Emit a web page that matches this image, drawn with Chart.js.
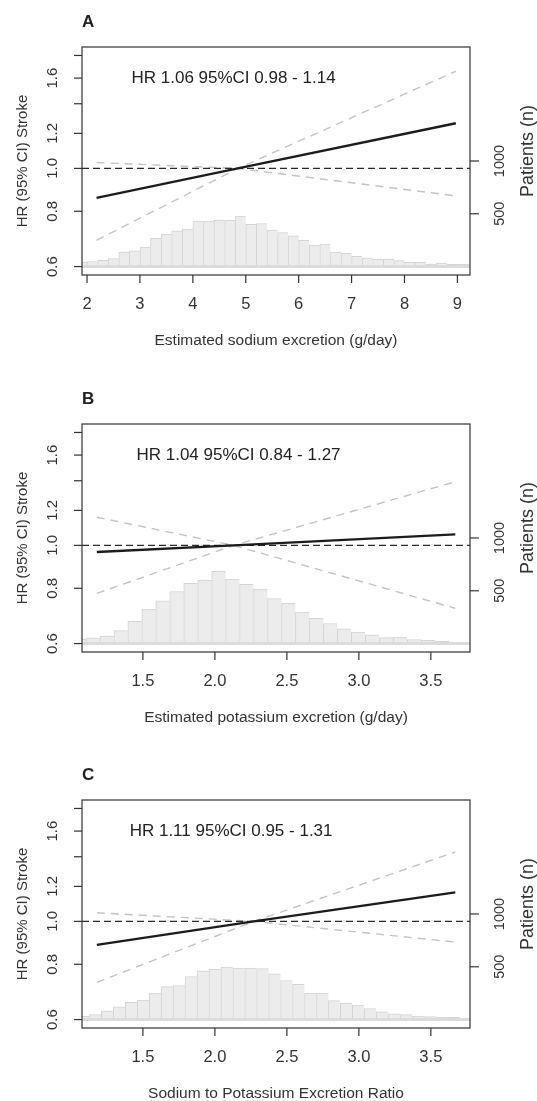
<!DOCTYPE html>
<html>
<head>
<meta charset="utf-8">
<script src="https://cdn.jsdelivr.net/npm/chart.js@4.4.1/dist/chart.umd.min.js"></script>
<style>
  html, body { margin: 0; padding: 0; background: #fff; overflow: hidden; }
  #page { position: relative; width: 537px; height: 1101px; }
  canvas { position: absolute; left: 0; }
</style>
</head>
<body>
<div id="page">
  <canvas id="panelA" width="537" height="377" style="top:0px"></canvas>
  <canvas id="panelB" width="537" height="376" style="top:377px"></canvas>
  <canvas id="panelC" width="537" height="348" style="top:753px"></canvas>
</div>
<script>
// shared y axes: log HR on the left, patient counts on the right
const hrTicks = [0.6, 0.8, 1.0, 1.2, 1.4, 1.6, 1.8]
const hrTickLabels = ["0.6", "0.8", "1.0", "1.2", "", "1.6", ""]
const hrRange = [0.5742, 1.8809]
const countTicks = [500, 1000]
const countRange = [-80, 2080]

// A: estimated sodium excretion
const naBinMid = [1.9, 2.1, 2.3, 2.5, 2.7, 2.9, 3.1, 3.3, 3.5, 3.7, 3.9, 4.1, 4.3, 4.5, 4.7, 4.9, 5.1, 5.3, 5.5,
  5.7, 5.9, 6.1, 6.3, 6.5, 6.7, 6.9, 7.1, 7.3, 7.5, 7.7, 7.9, 8.1, 8.3, 8.5, 8.7, 8.9, 9.1, 9.3]
const naCount = [40, 48, 58, 75, 135, 150, 185, 268, 308, 338, 355, 430, 430, 438, 438, 478, 400, 408, 345,
  322, 292, 248, 203, 212, 138, 125, 98, 83, 68, 68, 56, 39, 39, 24, 32, 21, 21, 18]
const naCurveX = [2.18, 4.85, 8.97]
const naHR = [0.858, 1.0, 1.265]
const naCISteep = [0.688, 1.0, 1.658]
const naCIFlat = [1.031, 1.0, 0.867]
const naXTicks = [2, 3, 4, 5, 6, 7, 8, 9]
const naXTickLabels = ["2", "3", "4", "5", "6", "7", "8", "9"]
const naXRange = [1.905, 9.238]

// B: estimated potassium excretion
const kBinMid = [1.056, 1.153, 1.250, 1.347, 1.444, 1.541, 1.638, 1.735, 1.832, 1.929, 2.026, 2.123, 2.220,
  2.317, 2.414, 2.511, 2.608, 2.705, 2.802, 2.899, 2.996, 3.093, 3.190, 3.287, 3.384, 3.481, 3.578, 3.675, 3.772]
const kCount = [42, 55, 68, 122, 210, 326, 404, 493, 570, 598, 685, 612, 560, 515, 426, 380, 298, 238, 190,
  140, 108, 83, 56, 61, 37, 31, 21, 15, 9]
const kCurveX = [1.18, 2.13, 3.67]
const kHR = [0.966, 1.0, 1.059]
const kCISteep = [0.779, 1.0, 1.393]
const kCIFlat = [1.158, 1.0, 0.721]

// C: sodium to potassium ratio
const ratioBinMid = [1.087, 1.170, 1.253, 1.336, 1.419, 1.502, 1.585, 1.668, 1.751, 1.834, 1.917, 2.000, 2.083,
  2.166, 2.249, 2.332, 2.415, 2.498, 2.581, 2.664, 2.747, 2.830, 2.913, 2.996, 3.079, 3.162, 3.245, 3.328,
  3.411, 3.494, 3.577, 3.660, 3.743]
const ratioCount = [31, 47, 83, 120, 164, 185, 250, 312, 321, 408, 462, 476, 498, 488, 488, 482, 433, 370, 334,
  248, 248, 180, 154, 136, 105, 74, 55, 47, 34, 28, 21, 21, 13]
const ratioCurveX = [1.18, 2.27, 3.67]
const ratioHR = [0.885, 1.0, 1.163]
const ratioCISteep = [0.728, 1.0, 1.435]
const ratioCIFlat = [1.046, 1.0, 0.898]

// B and C share the same x axis
const smallXTicks = [1.5, 2.0, 2.5, 3.0, 3.5]
const smallXTickLabels = ["1.5", "2.0", "2.5", "3.0", "3.5"]
const smallXRange = [1.077, 3.772]

const FONT = '"Liberation Sans", Arial, Helvetica, sans-serif'
const INK = "#333333"

function points(xs, ys) {
  return xs.map((x, i) => ({ x: x, y: ys[i] }))
}

// box, ticks, labels and titles in base-graphics style
function panelAxes(p) {
  return {
    id: "panelAxes",
    afterDatasetsDraw(chart) {
      const { ctx, chartArea: a, scales } = chart
      ctx.save()
      ctx.strokeStyle = INK
      ctx.fillStyle = INK
      ctx.lineWidth = 1.2
      ctx.strokeRect(a.left, a.top, a.right - a.left, a.bottom - a.top)

      // bottom axis
      ctx.font = "16.5px " + FONT
      ctx.textAlign = "center"
      ctx.textBaseline = "middle"
      p.xTicks.forEach((v, i) => {
        const x = scales.x.getPixelForValue(v)
        ctx.beginPath()
        ctx.moveTo(x, a.bottom)
        ctx.lineTo(x, a.bottom + 8)
        ctx.stroke()
        ctx.fillText(p.xTickLabels[i], x, a.bottom + 29)
      })
      ctx.font = "15.5px " + FONT
      ctx.fillText(p.xTitle, (a.left + a.right) / 2, a.bottom + 66)

      const vtext = (t, x, y) => {
        ctx.save()
        ctx.translate(x, y)
        ctx.rotate(-Math.PI / 2)
        ctx.fillText(t, 0, 0)
        ctx.restore()
      }

      // left axis (HR, log scale)
      ctx.font = "15px " + FONT
      hrTicks.forEach((v, i) => {
        const y = scales.y.getPixelForValue(v)
        ctx.beginPath()
        ctx.moveTo(a.left, y)
        ctx.lineTo(a.left - 8, y)
        ctx.stroke()
        if (hrTickLabels[i]) vtext(hrTickLabels[i], a.left - 29, y)
      })
      ctx.font = "15px " + FONT
      vtext("HR (95% CI) Stroke", a.left - 59, (a.top + a.bottom) / 2)

      // right axis (patients)
      ctx.font = "14.5px " + FONT
      countTicks.forEach(v => {
        const y = scales.yN.getPixelForValue(v)
        ctx.beginPath()
        ctx.moveTo(a.right, y)
        ctx.lineTo(a.right + 9, y)
        ctx.stroke()
        vtext(String(v), a.right + 30, y)
      })
      ctx.font = "18px " + FONT
      vtext("Patients (n)", a.right + 58, a.top + 104)

      // estimate inside the plot
      ctx.font = "17px " + FONT
      ctx.fillStyle = "#222222"
      ctx.textAlign = "left"
      ctx.fillText(p.note, scales.x.getPixelForValue(p.noteX), scales.y.getPixelForValue(1.6))

      // panel letter
      ctx.font = "bold 17px " + FONT
      ctx.fillStyle = "#222222"
      ctx.fillText(p.letter, a.left, 22)
      ctx.restore()
    }
  }
}

function drawPanel(canvasId, p) {
  const xMin = p.xRange[0]
  const xMax = p.xRange[1]
  return new Chart(document.getElementById(canvasId), {
    type: "bar",
    data: {
      datasets: [
        {
          type: "line",
          data: points(p.curveX, p.hr),
          yAxisID: "y",
          borderColor: "#1c1c1c",
          borderWidth: 2.4,
          pointRadius: 0,
          clip: 0,
          order: 1
        },
        {
          type: "line",
          data: points([xMin, xMax], [1, 1]),
          yAxisID: "y",
          borderColor: "#2a2a2a",
          borderWidth: 1.4,
          borderDash: [7, 4],
          pointRadius: 0,
          clip: 0,
          order: 2
        },
        {
          type: "line",
          data: points(p.curveX, p.ciSteep),
          yAxisID: "y",
          borderColor: "#c4c4c4",
          borderWidth: 1.4,
          borderDash: [8, 6],
          pointRadius: 0,
          clip: 0,
          order: 3
        },
        {
          type: "line",
          data: points(p.curveX, p.ciFlat),
          yAxisID: "y",
          borderColor: "#c4c4c4",
          borderWidth: 1.4,
          borderDash: [8, 6],
          pointRadius: 0,
          clip: 0,
          order: 3
        },
        {
          type: "line",
          data: points([xMin, xMax], [0, 0]),
          yAxisID: "yN",
          borderColor: "#dcdcdc",
          borderWidth: 3,
          pointRadius: 0,
          clip: 0,
          order: 4
        },
        {
          type: "bar",
          data: points(p.binMid, p.count),
          yAxisID: "yN",
          backgroundColor: "#ececec",
          borderColor: "#d4d4d4",
          borderWidth: { top: 1, left: 1, right: 0, bottom: 0 },
          borderSkipped: false,
          categoryPercentage: 1.0,
          barPercentage: 1.0,
          clip: 0,
          order: 5
        }
      ]
    },
    options: {
      responsive: false,
      animation: false,
      devicePixelRatio: 1,
      layout: { padding: { left: 82, top: 47, right: 67, bottom: p.padBottom } },
      plugins: {
        legend: { display: false },
        tooltip: { enabled: false }
      },
      scales: {
        x: {
          type: "linear",
          min: xMin,
          max: xMax,
          offset: false,
          display: false,
          afterBuildTicks: scale => {
            scale.ticks = p.xTicks.map(v => ({ value: v }))
          }
        },
        y: { type: "logarithmic", min: hrRange[0], max: hrRange[1], display: false },
        yN: { type: "linear", position: "right", min: countRange[0], max: countRange[1], display: false }
      }
    },
    plugins: [panelAxes(p)]
  })
}

drawPanel("panelA", {
  letter: "A",
  note: "HR 1.06 95%CI 0.98 - 1.14",
  noteX: 2.84,
  xTitle: "Estimated sodium excretion (g/day)",
  xTicks: naXTicks,
  xTickLabels: naXTickLabels,
  xRange: naXRange,
  binMid: naBinMid,
  count: naCount,
  curveX: naCurveX,
  hr: naHR,
  ciSteep: naCISteep,
  ciFlat: naCIFlat,
  padBottom: 102
})

drawPanel("panelB", {
  letter: "B",
  note: "HR 1.04 95%CI 0.84 - 1.27",
  noteX: 1.455,
  xTitle: "Estimated potassium excretion (g/day)",
  xTicks: smallXTicks,
  xTickLabels: smallXTickLabels,
  xRange: smallXRange,
  binMid: kBinMid,
  count: kCount,
  curveX: kCurveX,
  hr: kHR,
  ciSteep: kCISteep,
  ciFlat: kCIFlat,
  padBottom: 101
})

drawPanel("panelC", {
  letter: "C",
  note: "HR 1.11 95%CI 0.95 - 1.31",
  noteX: 1.408,
  xTitle: "Sodium to Potassium Excretion Ratio",
  xTicks: smallXTicks,
  xTickLabels: smallXTickLabels,
  xRange: smallXRange,
  binMid: ratioBinMid,
  count: ratioCount,
  curveX: ratioCurveX,
  hr: ratioHR,
  ciSteep: ratioCISteep,
  ciFlat: ratioCIFlat,
  padBottom: 73
})
</script>
</body>
</html>
